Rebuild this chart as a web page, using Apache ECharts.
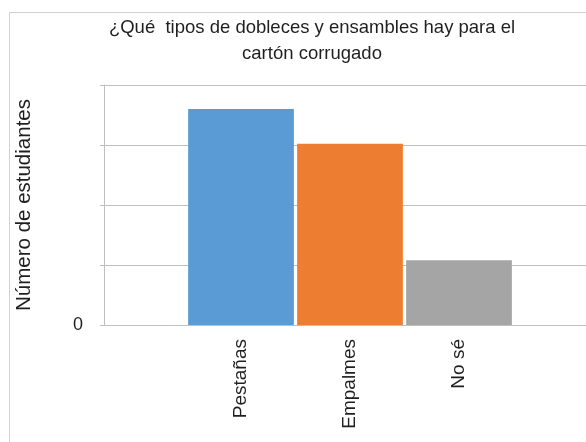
<!DOCTYPE html>
<html><head><meta charset="utf-8">
<script src="https://cdn.jsdelivr.net/npm/echarts@6/dist/echarts.min.js"></script>
<style>html,body{margin:0;padding:0;background:#fff}#c{width:586px;height:442px}</style>
</head><body><div id="c"></div>
<script>
const categories = ['Pestañas', 'Empalmes', 'No sé'];
const values = [18, 15.1, 5.4];
const colors = ['#5b9bd5', '#ed7d31', '#a5a5a5'];
const titleLines = ['¿Qué  tipos de dobleces y ensambles hay para el', 'cartón corrugado'];
const yName = 'Número de estudiantes';

const font = 'Liberation Sans';
const chart = echarts.init(document.getElementById('c'));
chart.setOption({
  animation: false,
  backgroundColor: '#fff',
  title: {
    text: titleLines.join('\n'),
    left: 307, top: 10, textAlign: 'center',
    textStyle: { fontFamily: font, fontSize: 18.5, fontWeight: 'normal', color: '#1f1f1f', lineHeight: 26 }
  },
  graphic: [{
    type: 'rect', shape: { x: 9.5, y: 12.5, width: 600, height: 440 },
    style: { fill: 'none', stroke: '#d0d0d0', lineWidth: 1 }, z: -1
  }],
  grid: [
    { left: 104, right: -20, top: 85, bottom: 117 },
    { left: 186.5, width: 327, top: 85, bottom: 117 }
  ],
  xAxis: [
    { gridIndex: 0, type: 'category', data: categories, show: false },
    { gridIndex: 1, type: 'category', data: categories,
      axisLine: { show: false }, axisTick: { show: false },
      axisLabel: { rotate: 90, margin: 14, fontFamily: font, fontSize: 19, color: '#1f1f1f' } }
  ],
  yAxis: [
    { gridIndex: 0, type: 'value', min: 0, max: 20, interval: 5,
      name: yName, nameLocation: 'middle', nameGap: 69,
      nameTextStyle: { fontFamily: font, fontSize: 20.5, color: '#1f1f1f' },
      axisLine: { show: true, lineStyle: { color: '#bfbfbf' } },
      axisTick: { show: true, length: 4, lineStyle: { color: '#bfbfbf' } },
      splitLine: { lineStyle: { color: '#bfbfbf' } },
      axisLabel: { margin: 21, fontFamily: font, fontSize: 18, color: '#1f1f1f',
        formatter: v => v === 0 ? '0' : '' } },
    { gridIndex: 1, type: 'value', min: 0, max: 20, interval: 5, show: false, splitLine: { show: false } }
  ],
  series: [{
    type: 'bar', xAxisIndex: 1, yAxisIndex: 1,
    barCategoryGap: '3%',
    data: values.map((v, i) => ({ value: v, itemStyle: { color: colors[i] } }))
  }]
});
</script></body></html>
